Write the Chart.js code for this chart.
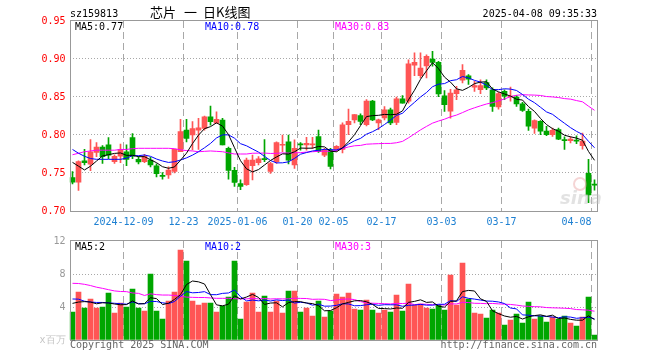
<!DOCTYPE html>
<html>
<head>
<meta charset="utf-8">
<script src="https://cdn.jsdelivr.net/npm/chart.js@4.4.1/dist/chart.umd.min.js"></script>
<style>
body { margin: 0; background: #fff; }
#wrap { position: relative; width: 660px; height: 360px; }
canvas { position: absolute; left: 0; top: 0; }
</style>
</head>
<body>
<div id="wrap">
<canvas id="klineChart" width="660" height="360"></canvas>
<canvas id="volumeChart" width="660" height="360"></canvas>
</div>
<script>
// trading days shown on the chart
const dates = [
  '2024-11-26','2024-11-27','2024-11-28','2024-11-29',
  '2024-12-02','2024-12-03','2024-12-04','2024-12-05','2024-12-06',
  '2024-12-09','2024-12-10','2024-12-11','2024-12-12','2024-12-13',
  '2024-12-16','2024-12-17','2024-12-18','2024-12-19','2024-12-20',
  '2024-12-23','2024-12-24','2024-12-25','2024-12-26','2024-12-27',
  '2024-12-30','2024-12-31','2025-01-02','2025-01-03',
  '2025-01-06','2025-01-07','2025-01-08','2025-01-09','2025-01-10',
  '2025-01-13','2025-01-14','2025-01-15','2025-01-16','2025-01-17',
  '2025-01-20','2025-01-21','2025-01-22','2025-01-23','2025-01-24','2025-01-27',
  '2025-02-05','2025-02-06','2025-02-07',
  '2025-02-10','2025-02-11','2025-02-12','2025-02-13','2025-02-14',
  '2025-02-17','2025-02-18','2025-02-19','2025-02-20','2025-02-21',
  '2025-02-24','2025-02-25','2025-02-26','2025-02-27','2025-02-28',
  '2025-03-03','2025-03-04','2025-03-05','2025-03-06','2025-03-07',
  '2025-03-10','2025-03-11','2025-03-12','2025-03-13','2025-03-14',
  '2025-03-17','2025-03-18','2025-03-19','2025-03-20','2025-03-21',
  '2025-03-24','2025-03-25','2025-03-26','2025-03-27','2025-03-28',
  '2025-03-31','2025-04-01','2025-04-02','2025-04-03','2025-04-07','2025-04-08'
];

// x axis labels
const tickDates = ['2024-12-09','2024-12-23','2025-01-06','2025-01-20','2025-02-05','2025-02-17','2025-03-03','2025-03-17','2025-04-08'];
const tickTexts = ['2024-12-09','12-23','2025-01-06','01-20','02-05','02-17','03-03','03-17','04-08'];

// daily prices
const opens = [.744,.738,.766,.7615,.777,.784,.787,.765,.772,.778,
  .7965,.768,.765,.767,.7595,.747,.7475,.752,.778,.8065,
  .800,.8065,.8085,.824,.8155,.8195,.7825,.7535,.736,.7345,
  .7595,.7635,.7685,.752,.765,.7865,.791,.7605,.7875,.787,
  .787,.798,.7735,.780,.781,.781,.8135,.820,.8255,.8135,
  .8445,.816,.8225,.833,.8165,.8475,.8445,.892,.878,.891,
  .900,.8955,.8515,.8315,.8545,.872,.878,.863,.8595,.869,
  .8595,.837,.8575,.850,.850,.841,.831,.809,.818,.805,
  .8005,.807,.7935,.7925,.793,.786,.7495,.735];
const highs = [.752,.766,.781,.794,.790,.786,.7965,.774,.788,.787,
  .802,.7715,.7745,.7705,.762,.7505,.758,.7815,.8205,.8205,
  .8175,.822,.825,.838,.8305,.822,.784,.7575,.741,.7695,
  .7735,.7715,.794,.764,.791,.800,.800,.7935,.790,.797,
  .797,.8065,.7825,.7825,.786,.816,.834,.827,.828,.8465,
  .8455,.821,.8375,.8355,.850,.852,.899,.908,.908,.9055,
  .910,.897,.8585,.860,.864,.8925,.8795,.8705,.8725,.8725,
  .862,.856,.8595,.863,.852,.843,.834,.820,.819,.8115,
  .809,.809,.7975,.7975,.799,.8025,.768,.741];
const lows = [.7355,.727,.7605,.753,.7715,.7625,.769,.7625,.7635,.7595,
  .769,.762,.7635,.758,.745,.742,.743,.750,.778,.791,
  .7805,.781,.8065,.813,.8155,.787,.742,.7325,.728,.7335,
  .741,.7605,.765,.7495,.7625,.778,.762,.756,.780,.780,
  .7825,.777,.7715,.7555,.7785,.7765,.8005,.816,.8135,.812,
  .819,.807,.820,.8135,.8135,.842,.842,.878,.875,.875,
  .8905,.8505,.831,.822,.8465,.8685,.8665,.8575,.8545,.8595,
  .831,.834,.8465,.8445,.8375,.831,.806,.802,.8005,.799,
  .798,.794,.781,.7895,.7885,.7815,.711,.7275];
const closes = [.738,.765,.7635,.778,.784,.7715,.7735,.772,.781,.768,
  .772,.7645,.772,.7605,.749,.7455,.754,.781,.8045,.7955,
  .8085,.8095,.824,.8175,.8205,.787,.7535,.7375,.7325,.767,
  .767,.7685,.7675,.7625,.790,.7875,.767,.7825,.787,.789,
  .788,.778,.780,.7585,.785,.8135,.818,.827,.818,.8445,
  .820,.820,.833,.816,.8475,.842,.8935,.8955,.888,.9035,
  .8955,.854,.840,.855,.8595,.885,.8735,.865,.865,.862,
  .8375,.8545,.851,.851,.841,.8325,.8115,.819,.805,.8005,
  .806,.7945,.7925,.7945,.792,.792,.721,.734];

// price moving averages
const ma5 = [.764,.759,.754,.759,.7657,.7724,.7741,.7758,.7764,.7732,
  .7733,.7715,.7715,.7674,.7636,.7583,.7562,.758,.7668,.7761,
  .7887,.7998,.8084,.811,.816,.8117,.8005,.7832,.7662,.7555,
  .7515,.7545,.7605,.7665,.7711,.7752,.7749,.7779,.7828,.7826,
  .7827,.7849,.7844,.7787,.7779,.783,.791,.8004,.8123,.8242,
  .8255,.8259,.8271,.8267,.8273,.8317,.8464,.8589,.8733,.8845,
  .8952,.8873,.8762,.8696,.8608,.8587,.8626,.8676,.8696,.8701,
  .8606,.8568,.854,.8512,.847,.846,.8374,.831,.8218,.8137,
  .8084,.805,.7997,.7976,.7959,.7931,.7784,.7667];
const ma10 = [.781,.776,.772,.769,.768,.768,.768,.768,.768,.7695,
  .7729,.7728,.7737,.7719,.7684,.7658,.7639,.7648,.7671,.7699,
  .7735,.778,.7832,.7889,.7961,.8002,.8002,.7958,.7886,.7858,
  .7816,.7775,.7719,.7664,.7633,.7634,.7647,.7692,.7747,.7769,
  .779,.7799,.7812,.7808,.7803,.7829,.788,.7924,.7955,.8011,
  .8043,.8085,.8138,.8195,.8258,.8286,.8362,.843,.85,.8559,
  .8635,.8669,.8676,.8715,.8727,.877,.875,.8719,.8696,.8655,
  .8597,.8597,.8608,.8604,.8586,.8533,.8471,.8425,.8365,.8304,
  .8272,.8212,.8154,.8097,.8048,.8008,.7917,.7832];
const ma30 = [.774,.776,.778,.779,.780,.780,.780,.780,.781,.781,
  .782,.7825,.7825,.7825,.7825,.7825,.7825,.782,.7805,.7795,
  .779,.778,.7785,.779,.7785,.778,.7765,.775,.775,.775,
  .776,.7761,.7762,.7757,.7759,.7765,.7762,.7766,.7768,.7775,
  .778,.7785,.7787,.7787,.7799,.7821,.7843,.7858,.7863,.7879,
  .7883,.7886,.7889,.7889,.7898,.7916,.7963,.8015,.8067,.8113,
  .8156,.8184,.8208,.8239,.8262,.8295,.833,.8358,.8384,.8408,
  .8425,.845,.8474,.8505,.8523,.853,.8527,.8525,.852,.8506,
  .8501,.8493,.8479,.8472,.8453,.8437,.8379,.8325];

// volume, millions
const volumes = [3.39,5.82,3.88,4.97,3.88,4.0,5.7,3.27,4.48,4.0,
  6.18,3.88,3.52,8.0,3.52,2.55,4.73,5.82,10.9,9.58,
  4.73,4.24,4.48,4.48,3.39,4.12,5.21,9.58,2.55,4.6,
  5.7,3.39,5.33,3.39,4.73,3.27,5.94,5.94,3.39,3.88,
  2.91,4.73,2.79,3.52,5.58,5.21,5.7,3.76,3.64,4.85,
  3.64,3.27,3.64,3.39,5.45,3.52,6.79,4.24,4.36,3.88,
  3.76,4.24,3.64,7.88,4.24,9.33,4.97,3.27,3.15,2.67,
  3.64,3.27,1.82,2.42,3.15,2.06,4.6,2.55,2.91,2.18,
  2.79,2.55,2.91,2.06,1.7,2.79,5.21,0.61];
const volMa5 = [4.44,4.6,4.65,4.6,4.39,4.51,4.49,4.36,4.27,4.29,
  4.73,4.36,4.41,5.12,5.02,4.29,4.46,4.92,5.5,6.72,
  7.15,7.05,6.79,5.5,4.26,4.14,4.34,5.36,4.97,5.21,
  5.53,5.16,4.31,4.48,4.51,4.02,4.53,4.65,4.65,4.48,
  4.41,4.17,3.54,3.57,3.91,4.37,4.56,4.75,4.78,4.63,
  4.32,3.83,3.81,3.76,3.88,3.85,4.56,4.68,4.87,4.56,
  4.61,4.1,3.98,4.68,4.75,5.87,6.01,5.94,4.99,4.68,
  3.54,3.2,2.91,2.76,2.86,2.54,2.81,2.96,3.05,2.86,
  3.01,2.6,2.67,2.5,2.4,2.4,2.93,2.47];
const volMa10 = [4.97,4.95,4.7,4.6,4.55,4.55,4.5,4.45,4.4,4.34,
  4.62,4.42,4.39,4.69,4.66,4.51,4.41,4.67,5.31,5.87,
  5.72,5.76,5.86,5.5,5.49,5.65,5.7,6.07,5.24,4.74,
  4.84,4.75,4.84,4.73,4.86,4.78,4.85,4.48,4.57,4.5,
  4.22,4.35,4.1,4.11,4.2,4.39,4.37,4.15,4.17,4.27,
  4.34,4.2,4.28,4.27,4.26,4.09,4.2,4.24,4.32,4.22,
  4.23,4.33,4.33,4.78,4.66,5.24,5.05,4.96,4.84,4.72,
  4.7,4.61,4.42,3.88,3.77,3.04,3.01,2.93,2.91,2.86,
  2.78,2.7,2.81,2.78,2.63,2.7,2.77,2.57];
const volMa30 = [6.87,6.85,6.75,6.6,6.4,6.26,6.1,5.95,5.88,5.86,
  5.7,5.65,5.4,5.6,5.5,5.45,5.45,5.4,5.3,5.2,
  5.17,5.15,5.15,5.1,5.05,5.05,5.05,5.0,5.0,4.98,
  5.06,4.98,5.03,4.97,5.0,4.98,4.99,5.07,5.04,5.03,
  4.93,4.95,4.93,4.78,4.85,4.94,4.97,4.9,4.66,4.5,
  4.46,4.43,4.4,4.37,4.44,4.42,4.47,4.29,4.35,4.33,
  4.26,4.29,4.24,4.38,4.37,4.57,4.54,4.45,4.44,4.4,
  4.43,4.38,4.34,4.31,4.23,4.12,4.08,4.04,4.02,3.93,
  3.9,3.88,3.85,3.81,3.69,3.66,3.61,3.49];

const RED = '#ff5555';
const GREEN = '#00a600';
const GRID = '#a8a8a8';
const MONO = "'DejaVu Sans Mono', monospace";
const last = dates.length - 1;

Chart.defaults.font.family = MONO;
Chart.defaults.font.size = 10;
Chart.defaults.animation = false;

const candleColors = closes.map((c, i) => c >= opens[i] ? RED : GREEN);
const gridIdx = tickDates.map(d => dates.indexOf(d));

function maLine(data, color) {
    return { type: 'line', data: data, borderColor: color, borderWidth: 1, pointRadius: 0, tension: 0, order: 0 };
}

function xAxis() {
    return {
        offset: true,
        afterFit: s => { s.height = 0; },
        ticks: { display: false, autoSkip: false },
        grid: { offset: true, drawTicks: false, color: ctx => gridIdx.includes(ctx.index) ? GRID : 'rgba(0,0,0,0)' },
        border: { display: false, dash: [7, 4] }
    };
}

function drawFrame(ctx, top, bottom) {
    ctx.save();
    ctx.strokeStyle = '#999';
    ctx.lineWidth = 1;
    ctx.strokeRect(70.5, top + 0.5, 527, bottom - top);
    ctx.restore();
}

// price panel texts, frame and date labels
const klineText = {
    id: 'klineText',
    afterDraw(chart) {
        const ctx = chart.ctx;
        drawFrame(ctx, 20, 211);
        ctx.save();
        ctx.font = '10px ' + MONO;
        ctx.textBaseline = 'alphabetic';
        ctx.fillStyle = '#000';
        ctx.fillText('sz159813', 70, 17);
        ctx.textAlign = 'right';
        ctx.fillText('2025-04-08 09:35:33', 597, 17);
        ctx.textAlign = 'left';
        ctx.font = '13px "Noto Sans CJK SC"';
        ctx.fillText('芯片', 150, 17);
        ctx.fillText('一', 184, 17);
        ctx.fillText('日K线图', 203, 17);

        ctx.font = '10px ' + MONO;
        ctx.fillStyle = '#000';
        ctx.fillText('MA5:' + ma5[last].toFixed(2), 75, 30);
        ctx.fillStyle = '#0000ff';
        ctx.fillText('MA10:' + ma10[last].toFixed(2), 205, 30);
        ctx.fillStyle = '#ff00ff';
        ctx.fillText('MA30:' + ma30[last].toFixed(2), 335, 30);

        // date labels centred on their grid lines
        const xs = chart.scales.x;
        const half = (xs.getPixelForValue(1) - xs.getPixelForValue(0)) / 2;
        ctx.fillStyle = '#1e80d2';
        tickDates.forEach((d, k) => {
            const gx = xs.getPixelForValue(dates.indexOf(d)) - half;
            const w = ctx.measureText(tickTexts[k]).width;
            let x = gx - w / 2;
            if (x + w > chart.chartArea.right) x = gx - w;
            ctx.fillText(tickTexts[k], x, 225);
        });

        // sina watermark
        ctx.font = 'italic bold 18px "DejaVu Sans"';
        ctx.fillStyle = 'rgba(190,190,190,0.45)';
        ctx.fillText('sina', 560, 204);
        ctx.beginPath();
        ctx.arc(580, 184, 6, 0, Math.PI * 2);
        ctx.strokeStyle = 'rgba(230,150,150,0.4)';
        ctx.lineWidth = 2;
        ctx.stroke();
        ctx.restore();
    }
};

const volText = {
    id: 'volText',
    afterDraw(chart) {
        const ctx = chart.ctx;
        drawFrame(ctx, 240, 340);
        ctx.save();
        ctx.font = '10px ' + MONO;
        ctx.fillStyle = '#000';
        ctx.fillText('MA5:' + Math.floor(volMa5[last]), 75, 250);
        ctx.fillStyle = '#0000ff';
        ctx.fillText('MA10:' + Math.floor(volMa10[last]), 205, 250);
        ctx.fillStyle = '#ff00ff';
        ctx.fillText('MA30:' + Math.floor(volMa30[last]), 335, 250);
        ctx.fillStyle = '#666';
        ctx.fillText('Copyright 2025 SINA.COM', 70, 348);
        ctx.textAlign = 'right';
        ctx.fillText('http://finance.sina.com.cn', 597, 348);
        ctx.restore();
    }
};

// K-line chart
const klineCtx = document.getElementById('klineChart').getContext('2d');
const klineChart = new Chart(klineCtx, {
    type: 'bar',
    data: {
        labels: dates,
        datasets: [
            maLine(ma5, '#000000'),
            maLine(ma10, '#0000ff'),
            maLine(ma30, '#ff00ff'),
            {
                data: opens.map((o, i) => [Math.min(o, closes[i]), Math.max(o, closes[i])]),
                backgroundColor: candleColors,
                barThickness: 5,
                minBarLength: 1,
                grouped: false,
                order: 1
            },
            {
                data: lows.map((l, i) => [l, highs[i]]),
                backgroundColor: candleColors,
                barThickness: 1,
                grouped: false,
                order: 2
            }
        ]
    },
    options: {
        responsive: false,
        devicePixelRatio: 1,
        layout: { padding: { top: 21, bottom: 149, left: 0, right: 62.5 } },
        plugins: { legend: { display: false }, tooltip: { enabled: false } },
        scales: {
            x: xAxis(),
            y: {
                min: 0.70,
                max: 0.95,
                afterFit: s => { s.width = 69.5; },
                ticks: { stepSize: 0.05, color: '#ff0000', padding: 4, callback: v => v.toFixed(2) },
                grid: { drawTicks: false, color: ctx => (ctx.tick && ctx.tick.value > 0.701 && ctx.tick.value < 0.949) ? GRID : 'rgba(0,0,0,0)' },
                border: { display: false, dash: [1, 2] }
            }
        }
    },
    plugins: [klineText]
});

// Volume chart
const volumeCtx = document.getElementById('volumeChart').getContext('2d');
const volumeChart = new Chart(volumeCtx, {
    type: 'bar',
    data: {
        labels: dates,
        datasets: [
            maLine(volMa5, '#000000'),
            maLine(volMa10, '#0000ff'),
            maLine(volMa30, '#ff00ff'),
            {
                data: volumes,
                backgroundColor: candleColors,
                barThickness: 5,
                grouped: false,
                order: 1
            }
        ]
    },
    options: {
        responsive: false,
        devicePixelRatio: 1,
        layout: { padding: { top: 241, bottom: 20, left: 0, right: 62.5 } },
        plugins: { legend: { display: false }, tooltip: { enabled: false } },
        scales: {
            x: xAxis(),
            y: {
                min: 0,
                max: 12,
                afterFit: s => { s.width = 69.5; },
                ticks: {
                    stepSize: 4,
                    padding: 4,
                    color: ctx => ctx.tick.value === 0 ? '#c4c4c4' : '#999',
                    callback: v => v === 0 ? 'x百万' : v
                },
                grid: { drawTicks: false, color: ctx => (ctx.tick && ctx.tick.value > 0 && ctx.tick.value < 12) ? GRID : 'rgba(0,0,0,0)' },
                border: { display: false, dash: [1, 2] }
            }
        }
    },
    plugins: [volText]
});
</script>
</body>
</html>
